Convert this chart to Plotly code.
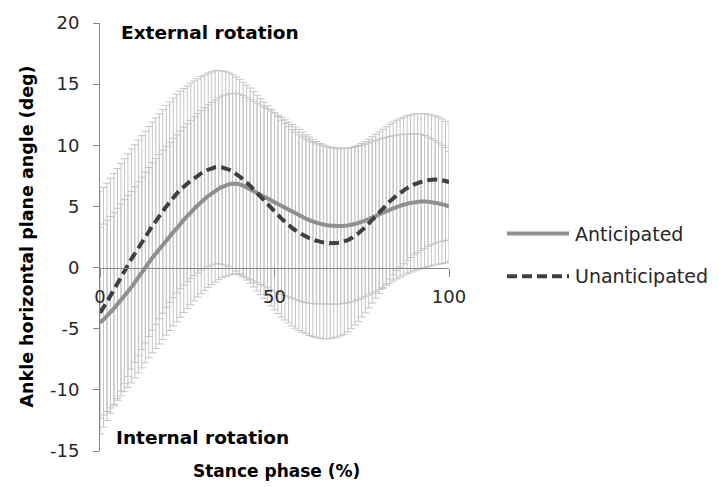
import plotly.graph_objects as go

# Stance phase (% of stance), 0..100 in 1% steps
stance = list(range(101))

# Mean ankle horizontal plane angle (deg)
anticipated_mean = [
    -4.5, -4.25, -3.95, -3.65, -3.35, -3.0, -2.65, -2.3, -1.95, -1.6,
    -1.2, -0.8, -0.4, 0.0, 0.4, 0.8, 1.15, 1.5, 1.85, 2.2,
    2.55, 2.9, 3.2, 3.55, 3.9, 4.2, 4.5, 4.8, 5.1, 5.35,
    5.6, 5.85, 6.05, 6.25, 6.45, 6.6, 6.7, 6.8, 6.85, 6.85,
    6.8, 6.7, 6.55, 6.4, 6.25, 6.1, 5.95, 5.8, 5.65, 5.5,
    5.35, 5.2, 5.05, 4.9, 4.75, 4.6, 4.45, 4.3, 4.15, 4.0,
    3.88, 3.77, 3.67, 3.59, 3.52, 3.47, 3.43, 3.41, 3.4, 3.4,
    3.42, 3.45, 3.5, 3.57, 3.65, 3.75, 3.85, 3.97, 4.1, 4.22,
    4.35, 4.48, 4.6, 4.72, 4.84, 4.95, 5.05, 5.14, 5.22, 5.28,
    5.33, 5.37, 5.4, 5.4, 5.38, 5.35, 5.3, 5.24, 5.17, 5.1,
    5.0,
]
unanticipated_mean = [
    -3.7, -3.25, -2.8, -2.3, -1.8, -1.3, -0.8, -0.3, 0.2, 0.7,
    1.15, 1.6, 2.05, 2.5, 2.95, 3.4, 3.8, 4.2, 4.6, 5.0,
    5.35, 5.7, 6.05, 6.35, 6.6, 6.85, 7.1, 7.3, 7.5, 7.7,
    7.85, 8.0, 8.1, 8.2, 8.2, 8.18, 8.1, 8.0, 7.85, 7.65,
    7.45, 7.2, 6.95, 6.7, 6.4, 6.1, 5.8, 5.5, 5.2, 4.9,
    4.6, 4.3, 4.0, 3.75, 3.5, 3.25, 3.05, 2.85, 2.7, 2.55,
    2.4, 2.3, 2.2, 2.12, 2.06, 2.02, 2.0, 2.0, 2.02, 2.07,
    2.15, 2.25, 2.4, 2.6, 2.8, 3.05, 3.3, 3.6, 3.9, 4.2,
    4.5, 4.8, 5.1, 5.4, 5.65, 5.9, 6.1, 6.3, 6.5, 6.65,
    6.8, 6.9, 7.0, 7.08, 7.14, 7.18, 7.2, 7.2, 7.15, 7.08,
    7.0,
]

# Standard deviations (deg)
anticipated_sd = [
    7.8, 7.81, 7.82, 7.83, 7.84, 7.85, 7.85, 7.85, 7.84, 7.83,
    7.82, 7.81, 7.8, 7.79, 7.78, 7.77, 7.76, 7.75, 7.74, 7.72,
    7.7, 7.67, 7.64, 7.61, 7.58, 7.56, 7.54, 7.52, 7.5, 7.49,
    7.48, 7.47, 7.46, 7.45, 7.44, 7.43, 7.42, 7.41, 7.4, 7.4,
    7.39, 7.38, 7.37, 7.36, 7.35, 7.34, 7.33, 7.32, 7.31, 7.3,
    7.3, 7.27, 7.23, 7.19, 7.15, 7.1, 7.05, 7.0, 6.93, 6.86,
    6.8, 6.72, 6.64, 6.56, 6.5, 6.45, 6.42, 6.4, 6.38, 6.36,
    6.35, 6.33, 6.31, 6.29, 6.27, 6.25, 6.23, 6.21, 6.19, 6.17,
    6.15, 6.1, 6.05, 6.0, 5.94, 5.88, 5.82, 5.76, 5.7, 5.65,
    5.6, 5.55, 5.5, 5.4, 5.3, 5.2, 5.08, 4.96, 4.84, 4.72,
    4.5,
]
unanticipated_sd = [
    9.9, 9.8, 9.7, 9.6, 9.5, 9.4, 9.3, 9.2, 9.1, 9.0,
    8.9, 8.82, 8.74, 8.66, 8.58, 8.5, 8.44, 8.38, 8.32, 8.26,
    8.2, 8.16, 8.12, 8.08, 8.04, 8.0, 7.98, 7.96, 7.94, 7.92,
    7.9, 7.9, 7.9, 7.9, 7.9, 7.9, 7.91, 7.92, 7.93, 7.94,
    7.95, 7.96, 7.97, 7.98, 7.99, 8.0, 8.01, 8.02, 8.03, 8.04,
    8.05, 8.05, 8.05, 8.04, 8.03, 8.02, 8.01, 8.0, 7.98, 7.96,
    7.95, 7.93, 7.91, 7.89, 7.87, 7.85, 7.8, 7.75, 7.7, 7.65,
    7.6, 7.5, 7.4, 7.3, 7.2, 7.1, 7.0, 6.9, 6.8, 6.7,
    6.6, 6.5, 6.42, 6.33, 6.24, 6.15, 6.07, 5.99, 5.91, 5.83,
    5.75, 5.68, 5.6, 5.5, 5.4, 5.3, 5.2, 5.1, 5.0, 4.88,
    4.75,
]

series_names = ["Anticipated", "Unanticipated"]
x_ticks = [0, 50, 100]
y_ticks = [-15, -10, -5, 0, 5, 10, 15, 20]

FONT = "DejaVu Sans"
TEXT = "#262626"
AXIS = "#868686"
BAR = "#c4c4c4"
COL_A = "#8f8f8f"
COL_U = "#3f3f3f"
DASH_U = "10px,5px"

# plot-area geometry in pixels, used to place the free-standing labels
W, H = 719, 487
L, R, T, B = 100, 270, 20, 36
PW, PH = W - L - R, H - T - B


def px_x(px):
    return (px - L) / PW


def px_y(py):
    return (H - B - py) / PH


fig = go.Figure()

# SD error bars (drawn first so the mean curves sit on top)
for mean, sd in ((anticipated_mean, anticipated_sd), (unanticipated_mean, unanticipated_sd)):
    fig.add_trace(go.Scatter(
        x=stance, y=mean, mode="markers",
        marker=dict(size=1, color="rgba(0,0,0,0)"),
        error_y=dict(type="data", array=sd, visible=True,
                     color=BAR, thickness=1, width=4),
        cliponaxis=False, hoverinfo="skip", showlegend=False,
    ))

# Mean curves
fig.add_trace(go.Scatter(
    x=stance, y=anticipated_mean, mode="lines", name=series_names[0],
    line=dict(color=COL_A, width=4, shape="spline"), showlegend=False,
))
fig.add_trace(go.Scatter(
    x=stance, y=unanticipated_mean, mode="lines", name=series_names[1],
    line=dict(color=COL_U, width=4, dash=DASH_U, shape="spline"), showlegend=False,
))

fig.update_layout(
    width=W, height=H,
    margin=dict(l=L, r=R, t=T, b=B),
    paper_bgcolor="white", plot_bgcolor="white",
    font=dict(family=FONT, size=18, color=TEXT),
    xaxis=dict(
        range=[0, 100], tickvals=x_ticks, ticktext=[str(v) for v in x_ticks],
        anchor="free", position=15 / 35,
        showline=True, linecolor=AXIS, linewidth=1,
        ticks="outside", ticklen=8, tickcolor=AXIS,
        ticklabelstandoff=5,
        showgrid=False, zeroline=False,
    ),
    yaxis=dict(
        range=[-15, 20], tickvals=y_ticks, ticktext=[str(v) for v in y_ticks],
        domain=[0, 1],
        showline=True, linecolor=AXIS, linewidth=1,
        ticks="outside", ticklen=6, tickcolor=AXIS,
        ticklabelstandoff=10,
        showgrid=False, zeroline=False,
    ),
)

# Legend drawn as line samples with labels
legend_rows = [(series_names[0], COL_A, "solid", 232), (series_names[1], COL_U, DASH_U, 275)]
for name, col, dash, ypx in legend_rows:
    fig.add_shape(type="line", xref="paper", yref="paper",
                  x0=px_x(507), x1=px_x(569), y0=px_y(ypx), y1=px_y(ypx),
                  line=dict(color=col, width=4, dash=dash))
    fig.add_annotation(xref="paper", yref="paper", x=px_x(573), y=px_y(ypx),
                       xanchor="left", yanchor="middle", showarrow=False,
                       text=name, font=dict(family=FONT, size=19, color=TEXT))

# Region and axis titles
fig.add_annotation(xref="paper", yref="paper", x=px_x(119), y=px_y(30),
                   xanchor="left", yanchor="middle", showarrow=False,
                   text="<b>External rotation</b>", font=dict(family=FONT, size=18.5, color="#000000"))
fig.add_annotation(xref="paper", yref="paper", x=px_x(114), y=px_y(437),
                   xanchor="left", yanchor="middle", showarrow=False,
                   text="<b>Internal rotation</b>", font=dict(family=FONT, size=18.5, color="#000000"))
fig.add_annotation(xref="paper", yref="paper", x=px_x(276), y=px_y(471),
                   xanchor="center", yanchor="middle", showarrow=False,
                   text="<b>Stance phase (%)</b>", font=dict(family=FONT, size=17, color="#000000"))
fig.add_annotation(xref="paper", yref="paper", x=px_x(27), y=px_y(235),
                   xanchor="center", yanchor="middle", showarrow=False, textangle=-90,
                   text="<b>Ankle horizontal plane angle (deg)</b>",
                   font=dict(family=FONT, size=17.5, color="#000000"))

fig.write_html("out.html")
